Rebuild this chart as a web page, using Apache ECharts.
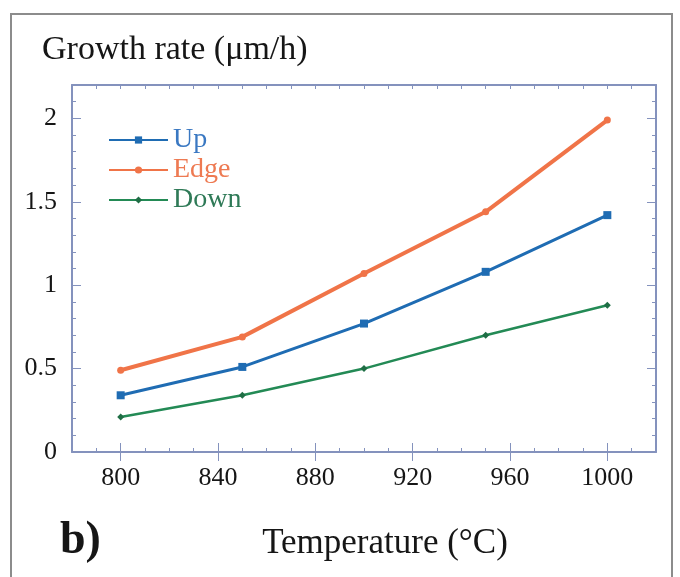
<!DOCTYPE html>
<html>
<head>
<meta charset="utf-8">
<script src="https://cdn.jsdelivr.net/npm/echarts@6/dist/echarts.min.js"></script>
<style>
  html, body { margin: 0; padding: 0; background: #ffffff; }
  #chart { width: 680px; height: 577px; }
</style>
</head>
<body>
<div id="chart"></div>
<script>
// Growth rate versus temperature for three substrate positions
const temperatures = [800, 850, 900, 950, 1000];
const upRate   = [0.34, 0.51, 0.77, 1.08, 1.42];
const edgeRate = [0.49, 0.69, 1.07, 1.44, 1.99];
const downRate = [0.21, 0.34, 0.50, 0.70, 0.88];

const xTickLabels = [800, 840, 880, 920, 960, 1000];
const yTickLabels = [0, 0.5, 1, 1.5, 2];

const seriesNames = ['Up', 'Edge', 'Down'];

const SERIF = '"Liberation Serif", "DejaVu Serif", serif';
const FRAME = '#8492bd';
const INK = '#161616';

const pairs = (ys) => temperatures.map((t, i) => [t, ys[i]]);

// Shared axis pieces: a framed box with inward ticks
function xAxisBase(position, extra) {
  return Object.assign({
    type: 'value', position: position, min: 780, max: 1020, interval: 10,
    axisLine: { show: true, onZero: false, lineStyle: { color: FRAME, width: 2 } },
    axisTick: { show: true, inside: true, length: 4, lineStyle: { color: FRAME, width: 1 } },
    axisLabel: { show: false },
    splitLine: { show: false }
  }, extra || {});
}
function yAxisBase(position, extra) {
  return Object.assign({
    type: 'value', position: position, min: 0, max: 2.2, interval: 0.1,
    axisLine: { show: true, onZero: false, lineStyle: { color: FRAME, width: 2 } },
    axisTick: { show: true, inside: true, length: 4, lineStyle: { color: FRAME, width: 1 } },
    axisLabel: { show: false },
    splitLine: { show: false }
  }, extra || {});
}

const majorX = { show: true, inside: true, length: 9, customValues: xTickLabels, lineStyle: { color: FRAME, width: 1 } };
const majorY = { show: true, inside: true, length: 9, customValues: yTickLabels, lineStyle: { color: FRAME, width: 1 } };

const chart = echarts.init(document.getElementById('chart'), null, { renderer: 'canvas' });

chart.setOption({
  backgroundColor: '#ffffff',
  animation: false,
  title: {
    text: 'Growth rate (\u03bcm/h)',
    left: 37, top: 28,
    textStyle: { fontFamily: SERIF, fontSize: 34, fontWeight: 'normal', color: INK }
  },
  legend: {
    orient: 'vertical',
    left: 103, top: 121,
    itemWidth: 59, itemHeight: 9, itemGap: 2,
    textStyle: { fontFamily: SERIF, fontSize: 28, lineHeight: 28 },
    data: [
      { name: 'Up',   textStyle: { color: '#3a78c2' } },
      { name: 'Edge', textStyle: { color: '#ee7a52' } },
      { name: 'Down', textStyle: { color: '#2f7a57' } }
    ]
  },
  grid: { left: 72, right: 24, top: 85, bottom: 125, containLabel: false, outerBoundsMode: 'none' },
  xAxis: [
    xAxisBase('bottom', {
      name: 'Temperature (\u00b0C)',
      nameLocation: 'middle',
      nameGap: 74,
      nameTextStyle: { fontFamily: SERIF, fontSize: 35, color: INK, padding: [0, 0, 0, 42] },
      axisLabel: {
        show: true, customValues: xTickLabels, margin: 13,
        fontFamily: SERIF, fontSize: 26, color: INK,
        formatter: (v) => String(v)
      }
    }),
    xAxisBase('bottom', { axisLine: { show: false }, axisTick: majorX }),
    xAxisBase('top'),
    xAxisBase('top', { axisLine: { show: false }, axisTick: majorX })
  ],
  yAxis: [
    yAxisBase('left', {
      axisLabel: {
        show: true, customValues: yTickLabels, margin: 15,
        fontFamily: SERIF, fontSize: 26, color: INK,
        formatter: (v) => String(v)
      }
    }),
    yAxisBase('left', { axisLine: { show: false }, axisTick: majorY }),
    yAxisBase('right'),
    yAxisBase('right', { axisLine: { show: false }, axisTick: majorY })
  ],
  graphic: [
    {
      type: 'rect', silent: true, z: -1,
      shape: { x: 11, y: 14, width: 661, height: 600 },
      style: { fill: 'none', stroke: '#8c8c8c', lineWidth: 2 }
    },
    {
      type: 'text', left: 60, top: 518,
      style: { text: 'b)', fontFamily: SERIF, fontSize: 46, fontWeight: 'bold', fill: INK }
    }
  ],
  series: [
    {
      name: seriesNames[0], type: 'line', data: pairs(upRate),
      symbol: 'rect', symbolSize: 8, color: '#1f6cb3',
      lineStyle: { width: 3, color: '#1f6cb3' }, itemStyle: { color: '#1f6cb3' }, z: 3
    },
    {
      name: seriesNames[1], type: 'line', data: pairs(edgeRate),
      symbol: 'circle', symbolSize: 7, color: '#f07448',
      lineStyle: { width: 4, color: '#f07448' }, itemStyle: { color: '#f07448' }, z: 2
    },
    {
      name: seriesNames[2], type: 'line', data: pairs(downRate),
      symbol: 'diamond', symbolSize: 7, color: '#238a55',
      lineStyle: { width: 2.5, color: '#238a55' }, itemStyle: { color: '#1f6e45' }, z: 4
    }
  ]
});
</script>
</body>
</html>
